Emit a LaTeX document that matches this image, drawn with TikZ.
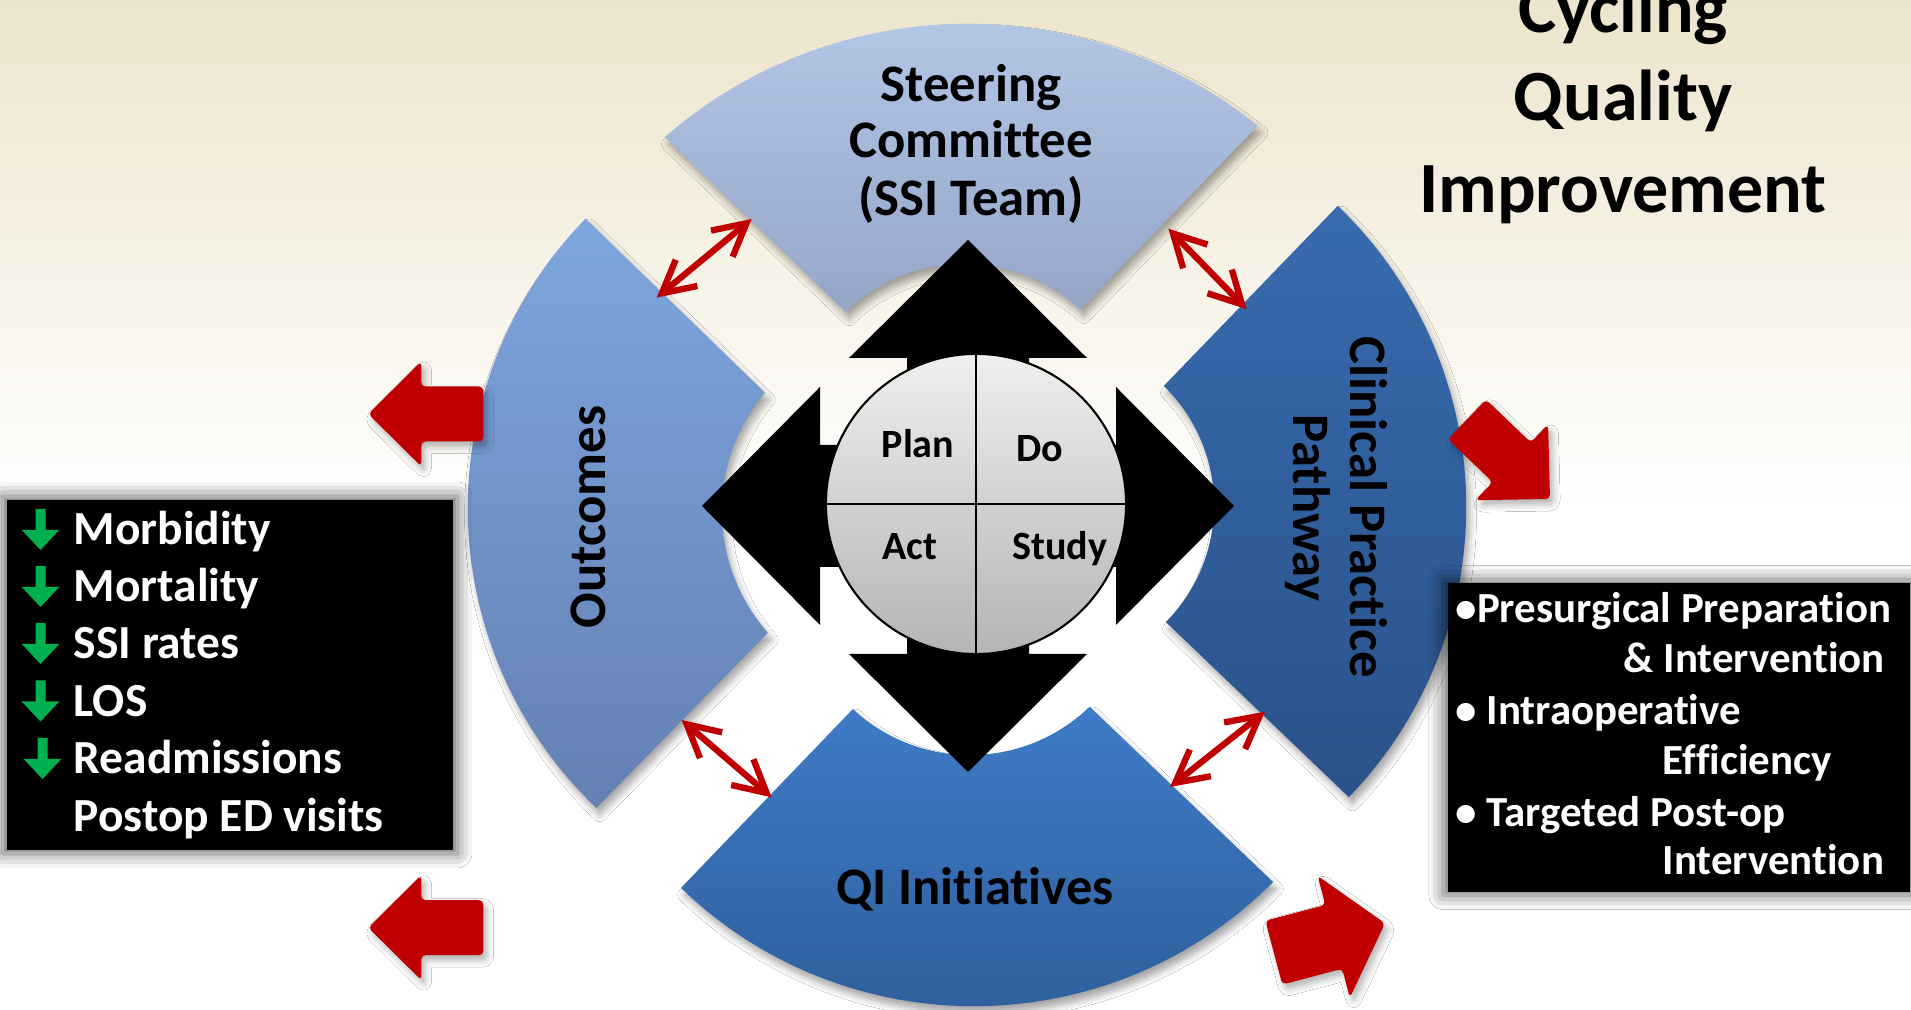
\documentclass[tikz,border=0pt]{standalone}
\usepackage{fontspec}
\setmainfont{Carlito}[Ligatures={NoCommon,NoContextual}]
\usetikzlibrary{calc,arrows.meta,shadows.blur}

\definecolor{bgbeige}{HTML}{EDE4CC}
\definecolor{steerTop}{HTML}{B6CAEA}
\definecolor{steerBot}{HTML}{95A6C8}
\definecolor{outTop}{HTML}{7DA6DE}
\definecolor{outBot}{HTML}{6580B3}
\definecolor{clinTop}{HTML}{386BAF}
\definecolor{clinBot}{HTML}{2A528A}
\definecolor{qiTop}{HTML}{3E7BC7}
\definecolor{qiBot}{HTML}{2E5C99}
\definecolor{pdsaTop}{HTML}{EFEFEF}
\definecolor{pdsaBot}{HTML}{B4B4B4}
\definecolor{arrowred}{HTML}{C00000}
\definecolor{downgreen}{HTML}{00B050}

% ring segment: style, outer centre, outer radius, outer start/end angle,
% inner centre, inner radius, inner end/start angle
\newcommand{\ringseg}[9]{%
  \path[#1] ($(#2)+(#4:#3)$) arc[start angle=#4,end angle=#5,radius=#3]
    -- ($(#6)+(#9:#7)$) arc[start angle=#9,end angle=#8,radius=#7] -- cycle;}

\begin{document}
\begin{tikzpicture}[x=0.01cm,y=0.01cm,
  segshadow/.style={blur shadow={shadow xshift=1pt,shadow yshift=-2pt,shadow blur steps=6,shadow opacity=35}},
  seglabel/.style={font=\fontsize{15}{16}\selectfont\bfseries,text=black,inner sep=0pt},
  pdsalabel/.style={font=\fontsize{11.4}{12}\selectfont\bfseries,text=black,inner sep=0pt,anchor=base},
  titletext/.style={font=\fontsize{20.5}{22}\selectfont\bfseries,text=black,inner sep=0pt,anchor=base},
  lefttext/.style={font=\fontsize{13.5}{14}\selectfont\bfseries,text=white,inner sep=0pt,anchor=base west},
  righttext/.style={font=\fontsize{12.2}{13}\selectfont\bfseries,text=white,inner sep=0pt,anchor=base west},
  blackbox/.style={fill=black,inner sep=0pt,blur shadow={shadow xshift=0pt,shadow yshift=0pt,shadow scale=1.02,shadow blur radius=4pt,shadow opacity=60}},
  link/.style={draw=arrowred,line width=1.8pt,line cap=round,line join=round,
    {Straight Barb[length=3.2mm,width=3.4mm]}-{Straight Barb[length=3.2mm,width=3.4mm]}},
  redarrow/.pic={\fill[arrowred,rounded corners=1.2pt,blur shadow={shadow xshift=1pt,shadow yshift=-1.5pt,shadow opacity=30}]
      (0,0) -- (-53,52.5) -- (-53,27.5) -- (-115,27.5) -- (-115,-27.5) -- (-53,-27.5) -- (-53,-52.5) -- cycle;},
  greenarrow/.pic={\fill[downgreen]
      (0,0) -- (18.8,20) -- (5,20) -- (5,41) -- (-5,41) -- (-5,20) -- (-18.8,20) -- cycle;}
]
\clip (0,0) rectangle (1911,1010);

% background
\fill[white] (0,0) rectangle (1911,1010);
\shade[top color=bgbeige,bottom color=white] (0,500) rectangle (1911,1010);

% four ring segments
\ringseg{top color=steerTop,bottom color=steerBot,segshadow}{968,524}{4.62cm}{131}{51.2}{964,576}{1.70cm}{134.1}{46.9}
\ringseg{top color=outTop,bottom color=outBot,segshadow}{882,502}{4.14cm}{135.7}{226.4}{906,499}{1.84cm}{140}{221.4}
\ringseg{top color=clinTop,bottom color=clinBot,segshadow}{1049,503}{4.17cm}{46.2}{-44.06}{1048,505}{1.66cm}{45.8}{-44.8}
\ringseg{top color=qiTop,bottom color=qiBot,segshadow}{974,426}{4.22cm}{-133.95}{-44.9}{970,427}{1.72cm}{-132.9}{-45.96}

% four-way black arrow
\begin{scope}[shift={(968,504)}]
  \fill[black] (266,0) -- (148,119) -- (148,61) -- (61,61) -- (61,148) -- (119,148) -- (0,266)
    -- (-119,148) -- (-61,148) -- (-61,61) -- (-148,61) -- (-148,119) -- (-266,0)
    -- (-148,-119) -- (-148,-61) -- (-61,-61) -- (-61,-148) -- (-119,-148) -- (0,-266)
    -- (119,-148) -- (61,-148) -- (61,-61) -- (148,-61) -- (148,-119) -- cycle;
\end{scope}

% PDSA circle
\node[circle,minimum size=3cm,inner sep=0pt,draw=black,line width=0.6pt,
  top color=pdsaTop,bottom color=pdsaBot] (pdsa) at (976,506) {};
\draw[line width=0.8pt] (pdsa.north) -- (pdsa.south);
\draw[line width=0.8pt] (pdsa.west) -- (pdsa.east);
\node[pdsalabel] (plan) at (918,552) {Plan};
\node[pdsalabel] (do) at (1040,548) {Do};
\node[pdsalabel] (act) at (910,450) {Act};
\node[pdsalabel] (study) at (1060,450) {Study};

% segment labels
\node[seglabel,anchor=base] (steer1) at (971,908) {Steering};
\node[seglabel,anchor=base] (steer2) at (971,852) {Committee};
\node[seglabel,anchor=base] (steer3) at (971,794) {(SSI Team)};
\node[seglabel,anchor=base,rotate=90] (outcomes) at (605,493) {Outcomes};
\node[seglabel,anchor=base,rotate=-90] (clin1) at (1350,503) {Clinical Practice};
\node[seglabel,anchor=base,rotate=-90] (clin2) at (1293,502) {Pathway};
\node[seglabel,anchor=base] (qi) at (975,105) {QI Initiatives};

% links between neighbouring segments
\coordinate (outNE) at (656.7,712.4);
\coordinate (steerSW) at (751.7,791);
\coordinate (steerSE) at (1168.3,781.3);
\coordinate (clinNW) at (1246.7,700.8);
\coordinate (outSE) at (681.7,290);
\coordinate (qiNW) at (771.7,212.6);
\coordinate (qiNE) at (1170,223);
\coordinate (clinSW) at (1265,298.3);
\draw[link] (outNE) -- (steerSW);
\draw[link] (steerSE) -- (clinNW);
\draw[link] (outSE) -- (qiNW);
\draw[link] (qiNE) -- (clinSW);

% red block arrows
\pic[rotate=180] at (368.3,596) {redarrow};
\pic[rotate=180] at (368.3,82.3) {redarrow};
\pic[rotate=-43.8] at (1550,511) {redarrow};
\pic[rotate=14.8,yscale=1.2] at (1385,86.7) {redarrow};

% outcome measures
\node[blackbox,minimum width=4.46cm,minimum height=3.5cm] (leftbox) at (230,335) {};
\pic at (40.5,460) {greenarrow};
\pic at (40.5,403) {greenarrow};
\pic at (40.5,346) {greenarrow};
\pic at (40.5,288.5) {greenarrow};
\pic at (42.5,231) {greenarrow};
\node[lefttext] (m1) at (73,465) {Morbidity};
\node[lefttext] (m2) at (73,408) {Mortality};
\node[lefttext] (m3) at (73,351) {SSI rates};
\node[lefttext] (m4) at (73,293.5) {LOS};
\node[lefttext] (m5) at (73,236) {Readmissions};
\node[lefttext] (m6) at (73,178) {Postop ED visits};

% pathway elements
\node[blackbox,minimum width=4.62cm,minimum height=3.09cm] (rightbox) at (1679,272.5) {};
\node[righttext] (p1) at (1455,387) {\textbullet Presurgical Preparation};
\node[righttext] (p2) at (1623,337) {\& Intervention};
\node[righttext] (p3) at (1455,285) {\textbullet{} Intraoperative};
\node[righttext] (p4) at (1662,235) {Efficiency};
\node[righttext] (p5) at (1455,183) {\textbullet{} Targeted Post-op};
\node[righttext] (p6) at (1662,135) {Intervention};

% title
\node[titletext] (t1) at (1623,977) {Cycling};
\node[titletext] (t2) at (1623,889) {Quality};
\node[titletext] (t3) at (1623,797) {Improvement};
\end{tikzpicture}
\end{document}
